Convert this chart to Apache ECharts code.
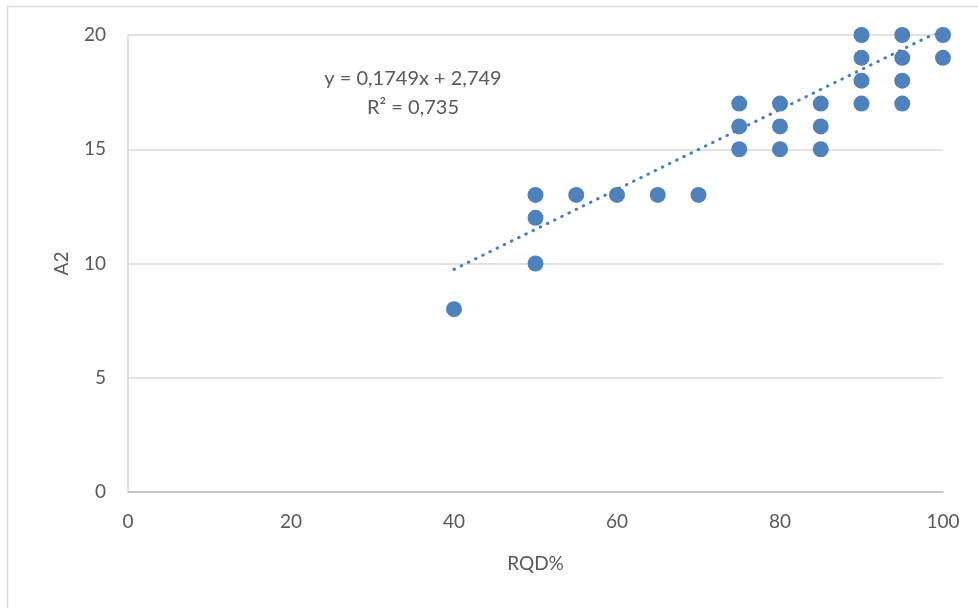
<!DOCTYPE html>
<html><head><meta charset="utf-8">
<script src="https://cdn.jsdelivr.net/npm/echarts@6/dist/echarts.min.js"></script>
<style>html,body{margin:0;padding:0;background:#fff}#c{width:978px;height:608px}</style>
</head><body><div id="c"></div>
<script>
const rqd = [40, 50, 50, 50, 55, 60, 65, 70, 75, 75, 75, 80, 80, 80, 85, 85, 85, 90, 90, 90, 90, 95, 95, 95, 95, 100, 100];
const a2  = [8, 13, 12, 10, 13, 13, 13, 13, 17, 16, 15, 17, 16, 15, 17, 16, 15, 20, 19, 18, 17, 20, 19, 18, 17, 20, 19];
const slope = 0.1749, intercept = 2.749;
const trendX = [40, 100];
const eqText = 'y = 0,1749x + 2,749';
const r2Text = 'R² = 0,735';

const pts = rqd.map((x, i) => [x, a2[i]]);
const trend = trendX.map(x => [x, slope * x + intercept]);
const font = 'Lato, "Open Sans", sans-serif';
const chart = echarts.init(document.getElementById('c'));
chart.setOption({
  animation: false,
  backgroundColor: '#fff',
  grid: { left: 128, right: 35, top: 35, bottom: 116 },
  graphic: [
    { type: 'rect', shape: { x: 7.5, y: 6.5, width: 1000, height: 1000 }, style: { fill: 'none', stroke: '#d9d9d9', lineWidth: 1.5 }, silent: true },
    { type: 'text', x: 413, y: 64, style: { text: eqText + '\n' + r2Text, align: 'center', verticalAlign: 'top', font: '20px ' + font, fill: '#595959', lineHeight: 29 } }
  ],
  xAxis: {
    type: 'value', min: 0, max: 100, interval: 20,
    name: 'RQD%', nameLocation: 'middle', nameGap: 62,
    nameTextStyle: { fontSize: 19, color: '#595959', fontFamily: font },
    axisLine: { show: true, lineStyle: { color: '#bfbfbf', width: 1.5 } },
    axisTick: { show: false },
    splitLine: { show: false },
    axisLabel: { fontSize: 19, color: '#595959', fontFamily: font, margin: 20 }
  },
  yAxis: {
    type: 'value', min: 0, max: 20, interval: 5,
    name: 'A2', nameLocation: 'middle', nameGap: 57,
    nameTextStyle: { fontSize: 19, color: '#595959', fontFamily: font },
    axisLine: { show: true, lineStyle: { color: '#d9d9d9', width: 1.5 } },
    axisTick: { show: false },
    splitLine: { show: true, lineStyle: { color: '#d9d9d9', width: 1.5 } },
    axisLabel: { fontSize: 19, color: '#595959', fontFamily: font, margin: 22 }
  },
  series: [
    { type: 'line', data: trend, symbol: 'none', z: 3,
      lineStyle: { color: '#4a7ebb', width: 3, type: [0.5, 7.5], cap: 'round' } },
    { type: 'scatter', data: pts, symbolSize: 16, z: 2,
      itemStyle: { color: '#4f81bd', opacity: 1 } }
  ]
});
</script></body></html>
